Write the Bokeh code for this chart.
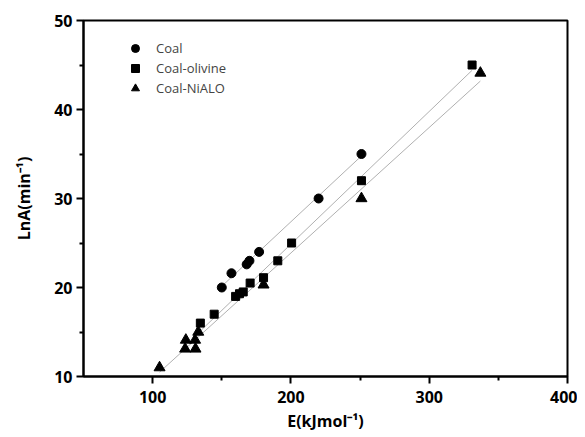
import numpy as np
from bokeh.plotting import figure
from bokeh.models import FixedTicker, Legend, LegendItem, Range1d
from bokeh.embed import file_html
from bokeh.resources import INLINE

# Data
coal_E = [150, 157, 168, 170, 177, 220, 251]
coal_lnA = [20.0, 21.6, 22.6, 23.0, 24.0, 30.0, 35.0]

olivine_E = [134.5, 144.5, 160, 162.8, 165.5, 170.5, 180.2, 190.5, 200.5, 251, 331]
olivine_lnA = [16.0, 17.0, 19.0, 19.3, 19.5, 20.5, 21.1, 23.0, 25.0, 32.0, 45.0]

nialo_E = [105, 123.5, 131, 124, 130.7, 133, 180.2, 251, 337]
nialo_lnA = [11.0, 13.1, 13.1, 14.1, 14.1, 15.0, 20.3, 30.0, 44.1]

x_ticks = [100, 200, 300, 400]
x_minor = [150, 250, 350]
y_ticks = [10, 20, 30, 40, 50]
y_minor = [15, 25, 35, 45]

series = [
    ("Coal", coal_E, coal_lnA, "circle", 9),
    ("Coal-olivine", olivine_E, olivine_lnA, "square", 8),
    ("Coal-NiALO", nialo_E, nialo_lnA, "triangle", 11),
]

p = figure(width=577, height=437, output_backend="svg", toolbar_location=None,
           x_range=Range1d(50, 400), y_range=Range1d(10, 50),
           min_border_left=83, min_border_right=10, min_border_top=20, min_border_bottom=61)

p.grid.visible = False
p.outline_line_color = "black"
p.outline_line_width = 2
p.background_fill_color = "white"
p.border_fill_color = "white"

items = []
for name, xs, ys, marker, size in series:
    xs_a = np.array(xs, dtype=float)
    ys_a = np.array(ys, dtype=float)
    k, b = np.polyfit(xs_a, ys_a, 1)
    x0, x1 = xs_a.min(), xs_a.max()
    p.line([x0, x1], [k * x0 + b, k * x1 + b], line_color="#b0b0b0", line_width=1)
for name, xs, ys, marker, size in series:
    r = p.scatter(xs, ys, marker=marker, size=size, fill_color="black", line_color="black")
    items.append(LegendItem(label=name, renderers=[r]))

legend = Legend(items=items, location=(42, 278), padding=0, spacing=0, margin=0,
                glyph_width=20, glyph_height=20, label_standoff=11,
                label_text_font="Open Sans", label_text_font_size="13px",
                border_line_color=None, background_fill_alpha=0)
p.add_layout(legend, "center")

for ax in (p.xaxis[0], p.yaxis[0]):
    ax.axis_line_width = 2
    ax.major_tick_line_width = 2
    ax.minor_tick_line_width = 2
    ax.major_tick_out = 7
    ax.major_tick_in = 0
    ax.minor_tick_out = 4
    ax.minor_tick_in = 0
    ax.major_label_text_font = "Open Sans"
    ax.major_label_text_font_style = "bold"
    ax.major_label_text_font_size = "16px"
    ax.major_label_text_color = "black"
    ax.axis_label_text_font = "Open Sans"
    ax.axis_label_text_font_style = "bold"
    ax.axis_label_text_font_size = "16px"
    ax.axis_label_text_color = "black"

p.xaxis[0].ticker = FixedTicker(ticks=x_ticks, minor_ticks=x_minor)
p.yaxis[0].ticker = FixedTicker(ticks=y_ticks, minor_ticks=y_minor)
p.xaxis[0].axis_label = "E(kJmol⁻¹)"
p.yaxis[0].axis_label = "LnA(min⁻¹)"
p.xaxis[0].major_label_standoff = 7
p.yaxis[0].major_label_standoff = 4
p.xaxis[0].axis_label_standoff = 4
p.yaxis[0].axis_label_standoff = 16

open("out.html", "w").write(file_html(p, INLINE))
